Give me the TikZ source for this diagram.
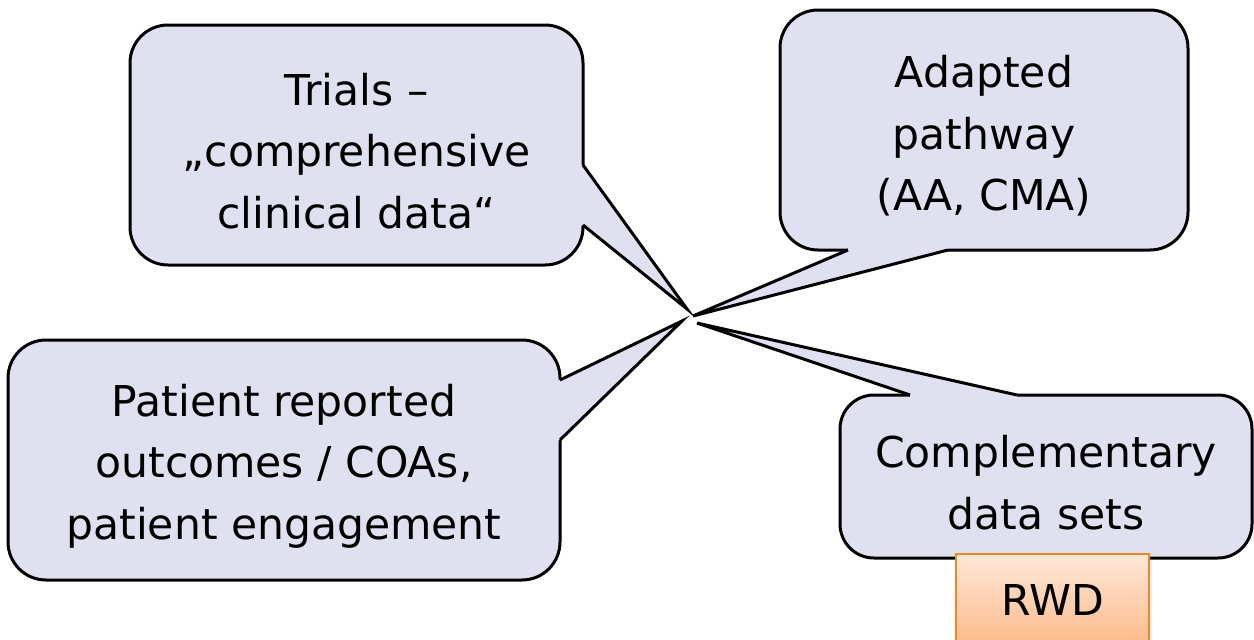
\documentclass[tikz,border=0pt]{standalone}
\usepackage{fontspec}
\setmainfont{DejaVu Sans}
\usetikzlibrary{shadows}
\definecolor{bubblefill}{RGB}{223,225,241}
\definecolor{rwdtop}{RGB}{254,232,218}
\definecolor{rwdbot}{RGB}{252,186,136}
\definecolor{rwdedge}{RGB}{236,136,30}
\begin{document}
\begin{tikzpicture}[x=1pt,y=-1pt,
  bubble/.style={draw=black, line width=3pt, fill=bubblefill, rounded corners=38pt, inner sep=0pt},
  btext/.style={inner sep=0pt, align=center, font=\fontsize{42.5}{61.5}\selectfont, text=black},
  pointerfill/.style={fill=bubblefill, draw=none},
  pointerline/.style={draw=black, line width=3pt, line join=miter},
  rwdbox/.style={draw=rwdedge, line width=2.4pt, top color=rwdtop, bottom color=rwdbot,
    minimum width=193pt, minimum height=92pt, inner sep=0pt,
    font=\fontsize{42.5}{50}\selectfont, text=black,
    drop shadow={opacity=0.12, shadow xshift=3pt, shadow yshift=-2pt}},
  ]
\useasboundingbox (0,0) rectangle (1254,640);

% bubbles
\node[bubble, minimum width=453pt, minimum height=240pt] (trials) at (356.5,145) {};
\node[bubble, minimum width=408pt, minimum height=240pt] (adapted) at (984,130) {};
\node[bubble, minimum width=412pt, minimum height=163pt, rounded corners=34pt] (compl) at (1046,476.5) {};
\node[bubble, minimum width=552pt, minimum height=240pt] (patient) at (284,460) {};

% pointer coordinates
\coordinate (t1) at (687,309);
\coordinate (b1a) at (583,165);
\coordinate (b1b) at (583,225);
\coordinate (t2) at (693,316);
\coordinate (b2a) at (848,250);
\coordinate (b2b) at (948,250);
\coordinate (t3) at (697,323);
\coordinate (b3a) at (910,395);
\coordinate (b3b) at (1017,395);
\coordinate (t4) at (682,321);
\coordinate (b4a) at (560,380);
\coordinate (b4b) at (560,440);

% pointer fills (cover the bubble border between base points)
\fill[pointerfill] ([xshift=-3pt]b1a) -- (b1a) -- (t1) -- (b1b) -- ([xshift=-3pt]b1b) -- cycle;
\fill[pointerfill] ([yshift=3pt]b2a) -- (b2a) -- (t2) -- (b2b) -- ([yshift=3pt]b2b) -- cycle;
\fill[pointerfill] ([yshift=-3pt]b3a) -- (b3a) -- (t3) -- (b3b) -- ([yshift=-3pt]b3b) -- cycle;
\fill[pointerfill] ([xshift=-3pt]b4a) -- (b4a) -- (t4) -- (b4b) -- ([xshift=-3pt]b4b) -- cycle;

% pointer sides
\draw[pointerline] (b1a) -- (t1) -- (b1b);
\draw[pointerline] (b2a) -- (t2) -- (b2b);
\draw[pointerline] (b3a) -- (t3) -- (b3b);
\draw[pointerline] (b4a) -- (t4) -- (b4b);

% texts
\node[btext] (trialstext) at ([yshift=-6pt]trials.center) {Trials –\\„comprehensive\\clinical data“};
\node[btext] (adaptedtext) at ([yshift=-6pt]adapted.center) {Adapted\\pathway\\(AA, CMA)};
\node[btext] (compltext) at ([yshift=-6pt]compl.center) {Complementary\\data sets};
\node[btext] (patienttext) at ([yshift=-6pt]patient.center) {Patient reported\\outcomes / COAs,\\patient engagement};

% RWD box
\node[rwdbox] (rwd) at (1052.5,600) {RWD};
\end{tikzpicture}
\end{document}
